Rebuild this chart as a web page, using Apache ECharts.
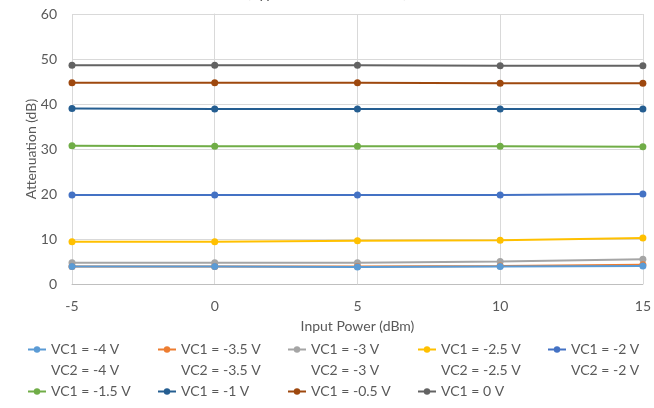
<!DOCTYPE html>
<html>
<head>
<meta charset="utf-8">
<script src="https://cdn.jsdelivr.net/npm/echarts@6/dist/echarts.min.js"></script>
<style>
  html, body { margin: 0; padding: 0; background: #fff; }
  #chart { width: 654px; height: 408px; }
</style>
</head>
<body>
<div id="chart"></div>
<script>
// Input power sweep points (dBm)
const inputPower = [-5, 0, 5, 10, 15];

// Control voltage settings, first and second legend lines
const vc1Labels = ['VC1 = -4 V', 'VC1 = -3.5 V', 'VC1 = -3 V', 'VC1 = -2.5 V', 'VC1 = -2 V',
                   'VC1 = -1.5 V', 'VC1 = -1 V', 'VC1 = -0.5 V', 'VC1 = 0 V'];
const vc2Labels = ['VC2 = -4 V', 'VC2 = -3.5 V', 'VC2 = -3 V', 'VC2 = -2.5 V', 'VC2 = -2 V',
                   '', '', '', ''];

// Attenuation (dB) per setting
const attnM4   = [3.9, 3.9, 3.8, 3.9, 4.0];
const attnM35  = [3.9, 3.9, 3.9, 4.0, 4.3];
const attnM3   = [4.7, 4.7, 4.7, 5.0, 5.5];
const attnM25  = [9.4, 9.4, 9.6, 9.7, 10.2];
const attnM2   = [19.8, 19.8, 19.8, 19.8, 20.0];
const attnM15  = [30.7, 30.6, 30.6, 30.6, 30.5];
const attnM1   = [39.0, 38.9, 38.9, 38.9, 38.9];
const attnM05  = [44.7, 44.7, 44.7, 44.6, 44.6];
const attn0    = [48.6, 48.6, 48.6, 48.5, 48.5];

const yTicks = [0, 10, 20, 30, 40, 50, 60];

const allValues = [attnM4, attnM35, attnM3, attnM25, attnM2, attnM15, attnM1, attnM05, attn0];
const colors = ['#5B9BD5', '#ED7D31', '#A5A5A5', '#FFC000', '#4472C4',
                '#70AD47', '#255E91', '#9E480E', '#636363'];

const FONT = 'Lato';
const TXT = '#595959';
const LINE_H = 21;

const series = allValues.map((vals, i) => ({
  name: vc1Labels[i],
  type: 'line',
  data: vals.map((v, k) => [inputPower[k], v]),
  symbol: 'circle',
  symbolSize: 7,
  lineStyle: { width: 2, color: colors[i] },
  itemStyle: { color: colors[i] },
  z: 10 - i
}));

const chart = echarts.init(document.getElementById('chart'), null, { renderer: 'canvas' });
chart.setOption({
  animation: false,
  color: colors,
  title: {
    text: '(Typical at 2 GHz, 25 °C)',
    left: 'center',
    top: -14,
    padding: 0,
    textStyle: { fontFamily: FONT, fontSize: 15, fontWeight: 'normal', color: TXT }
  },
  grid: { left: 72, right: 7, top: 14, bottom: 124 },
  legend: {
    data: vc1Labels,
    left: 27,
    top: 318,
    width: 700,
    padding: 0,
    // two-line entries get a leading blank line so the marker sits beside the first line;
    // the negative gap takes that extra line back out of the row pitch
    itemGap: -LINE_H,
    itemWidth: 18,
    itemHeight: 8,
    textStyle: { fontFamily: FONT, fontSize: 14, color: TXT, lineHeight: LINE_H, width: 127 },
    formatter: n => {
      const sub = vc2Labels[vc1Labels.indexOf(n)];
      return sub ? '\n' + n + '\n' + sub : n;
    }
  },
  xAxis: {
    type: 'value',
    min: inputPower[0],
    max: inputPower[inputPower.length - 1],
    interval: 5,
    name: 'Input Power (dBm)',
    nameLocation: 'middle',
    nameGap: 35,
    nameMoveOverlap: false,
    nameTextStyle: { fontFamily: FONT, fontSize: 14, color: TXT },
    axisLine: { lineStyle: { color: '#BFBFBF', width: 1 } },
    axisTick: { show: false },
    axisLabel: { fontFamily: FONT, fontSize: 14, color: TXT, margin: 15 },
    splitLine: { show: true, lineStyle: { color: '#D9D9D9', width: 1 } }
  },
  yAxis: {
    type: 'value',
    min: yTicks[0],
    max: yTicks[yTicks.length - 1],
    interval: 10,
    name: 'Attenuation (dB)',
    nameLocation: 'middle',
    nameGap: 34,
    nameMoveOverlap: false,
    nameTextStyle: { fontFamily: FONT, fontSize: 14, color: TXT },
    axisLine: { show: true, lineStyle: { color: '#D9D9D9', width: 1 } },
    axisTick: { show: false },
    axisLabel: { fontFamily: FONT, fontSize: 14, color: TXT, margin: 15 },
    splitLine: { show: true, lineStyle: { color: '#D9D9D9', width: 1 } }
  },
  series: series
});
</script>
</body>
</html>
